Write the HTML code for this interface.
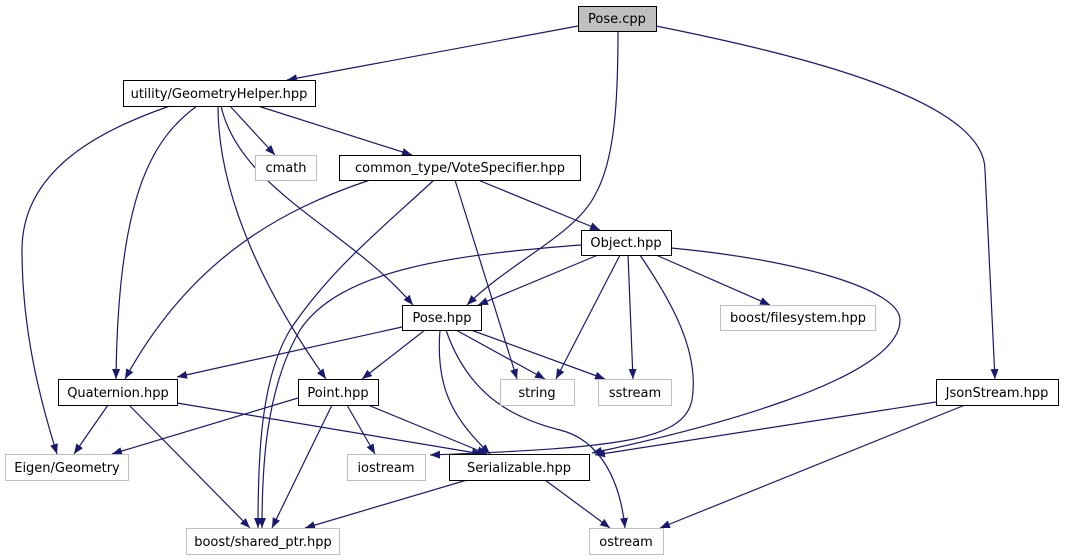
<!DOCTYPE html>
<html><head><meta charset="utf-8"><style>
html,body{margin:0;padding:0;background:#fff;width:1076px;height:560px;overflow:hidden}
svg text{font-family:"DejaVu Sans","Liberation Sans",sans-serif;font-size:13px;text-anchor:middle;fill:#000}
</style></head><body>
<svg width="1076" height="560" viewBox="0 0 1076 560" xmlns="http://www.w3.org/2000/svg">
<defs><marker id="a" viewBox="0 0 10 8" refX="10" refY="4" markerWidth="10" markerHeight="8" markerUnits="userSpaceOnUse" orient="auto"><path d="M0,0 L10,4 L0,8 z" fill="#191970"/></marker></defs>
<g fill="none" stroke="#191970" stroke-width="1.2" marker-end="url(#a)">
<path d="M578,26 L287,80"/>
<path d="M618,31 C618,100 615,160 595,195 C575,235 510,262 467,305"/>
<path d="M656,26 C800,55 985,100 985,170 L995,379"/>
<path d="M170,106 C100,130 22,170 22,250 C22,330 40,400 57,454"/>
<path d="M197,106 C150,140 118,200 116,379"/>
<path d="M218,106 C218,200 270,300 326,379"/>
<path d="M221,106 C240,190 350,230 413,305"/>
<path d="M230,106 L275,155"/>
<path d="M258,106 L412,155"/>
<path d="M370,180 C280,210 190,260 125,379"/>
<path d="M434,180 C380,230 330,270 290,330 C260,380 258,460 258,528"/>
<path d="M455,180 L517,379"/>
<path d="M478,180 L600,230"/>
<path d="M581,245 C450,255 340,270 300,330 C265,390 262,470 262,528"/>
<path d="M598,255 L478,305"/>
<path d="M620,255 L556,379"/>
<path d="M628,255 L633,379"/>
<path d="M640,255 C670,300 700,350 692,400 C684,440 620,448 430,455"/>
<path d="M656,255 L770,305"/>
<path d="M671,248 C800,260 900,290 900,320 C900,380 700,430 592,453"/>
<path d="M402,327 L177,377"/>
<path d="M425,330 L362,379"/>
<path d="M456,330 L545,379"/>
<path d="M471,330 L605,379"/>
<path d="M440,330 C435,390 455,420 490,454"/>
<path d="M446,330 C470,400 520,420 560,430 C600,440 620,480 625,528"/>
<path d="M108,405 L74,454"/>
<path d="M129,405 L250,528"/>
<path d="M177,403 L482,454"/>
<path d="M298,398 L112,454"/>
<path d="M332,405 L272,528"/>
<path d="M347,405 L375,454"/>
<path d="M368,405 L487,454"/>
<path d="M467,480 L305,528"/>
<path d="M545,480 L610,528"/>
<path d="M936,402 L595,455"/>
<path d="M965,405 L660,528"/>
</g>
<g stroke-width="1">
<rect x="578.5" y="6.5" width="78" height="25" fill="#bfbfbf" stroke="#000"/>
<rect x="123.5" y="80.5" width="192" height="26" fill="#fff" stroke="#000"/>
<rect x="255.5" y="155.5" width="61" height="25" fill="#fff" stroke="#bfbfbf"/>
<rect x="339.5" y="155.5" width="241" height="25" fill="#fff" stroke="#000"/>
<rect x="581.5" y="230.5" width="90" height="25" fill="#fff" stroke="#000"/>
<rect x="402.5" y="305.5" width="79" height="25" fill="#fff" stroke="#000"/>
<rect x="720.5" y="305.5" width="155" height="25" fill="#fff" stroke="#bfbfbf"/>
<rect x="58.5" y="379.5" width="119" height="26" fill="#fff" stroke="#000"/>
<rect x="298.5" y="379.5" width="80" height="26" fill="#fff" stroke="#000"/>
<rect x="500.5" y="379.5" width="74" height="26" fill="#fff" stroke="#bfbfbf"/>
<rect x="598.5" y="379.5" width="73" height="26" fill="#fff" stroke="#bfbfbf"/>
<rect x="936.5" y="379.5" width="122" height="26" fill="#fff" stroke="#000"/>
<rect x="5.5" y="454.5" width="123" height="26" fill="#fff" stroke="#bfbfbf"/>
<rect x="347.5" y="454.5" width="78" height="26" fill="#fff" stroke="#bfbfbf"/>
<rect x="449.5" y="454.5" width="140" height="26" fill="#fff" stroke="#000"/>
<rect x="186.5" y="528.5" width="153" height="26" fill="#fff" stroke="#bfbfbf"/>
<rect x="589.5" y="528.5" width="74" height="26" fill="#fff" stroke="#bfbfbf"/>
</g>
<text x="617" y="23">Pose.cpp</text>
<text x="219" y="98">utility/GeometryHelper.hpp</text>
<text x="286" y="172">cmath</text>
<text x="460" y="172">common_type/VoteSpecifier.hpp</text>
<text x="626" y="247">Object.hpp</text>
<text x="442" y="322">Pose.hpp</text>
<text x="798" y="322">boost/filesystem.hpp</text>
<text x="118" y="397">Quaternion.hpp</text>
<text x="338" y="397">Point.hpp</text>
<text x="537" y="397">string</text>
<text x="635" y="397">sstream</text>
<text x="997" y="397">JsonStream.hpp</text>
<text x="67" y="472">Eigen/Geometry</text>
<text x="386" y="472">iostream</text>
<text x="519" y="472">Serializable.hpp</text>
<text x="263" y="546">boost/shared_ptr.hpp</text>
<text x="626" y="546">ostream</text>
</svg>
</body></html>
